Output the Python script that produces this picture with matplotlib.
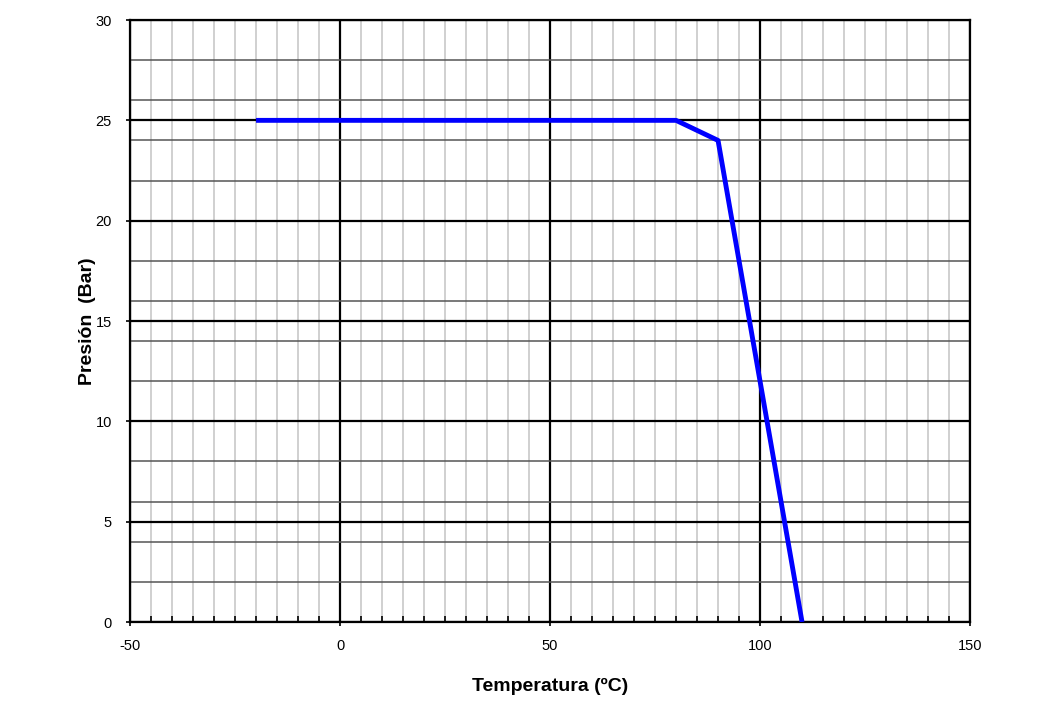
import numpy as np
import matplotlib.pyplot as plt
from matplotlib.ticker import MultipleLocator

plt.rcParams['font.family'] = ['Liberation Sans', 'DejaVu Sans']
plt.rcParams['axes.unicode_minus'] = False

temp = [-20, 80, 90, 110]
pres = [25, 25, 24, 0]

fig = plt.figure(figsize=(10.59, 7.05), dpi=100)
ax = fig.add_axes([0.1228, 0.1177, 0.7932, 0.8539])

ax.set_xlim(-50, 150)
ax.set_ylim(0, 30)
ax.xaxis.set_major_locator(MultipleLocator(50))
ax.xaxis.set_minor_locator(MultipleLocator(5))
ax.yaxis.set_major_locator(MultipleLocator(5))
ax.yaxis.set_minor_locator(MultipleLocator(2))

ax.grid(which='minor', axis='x', color='#c8c8c8', linewidth=1.2)
ax.grid(which='minor', axis='y', color='#555555', linewidth=1.1)
ax.grid(which='major', axis='both', color='black', linewidth=1.6)
ax.set_axisbelow(True)

ax.plot(temp, pres, color='#0000ff', linewidth=3.5, solid_capstyle='butt', zorder=3)

for s in ax.spines.values():
    s.set_linewidth(1.6)

ax.tick_params(axis='x', which='major', direction='inout', length=6, width=1.2, labelsize=10.5, pad=9)
ax.tick_params(axis='x', which='minor', direction='in', length=4, width=1.2)
ax.tick_params(axis='y', which='major', direction='out', length=3, width=1.2, labelsize=10.5, pad=10)
ax.tick_params(axis='y', which='minor', length=0)

ax.set_xlabel('Temperatura (ºC)', fontsize=14, fontweight='bold', labelpad=18)
ax.set_ylabel('Presión  (Bar)', fontsize=14, fontweight='bold', labelpad=0)

plt.savefig('out.png', dpi=100)
